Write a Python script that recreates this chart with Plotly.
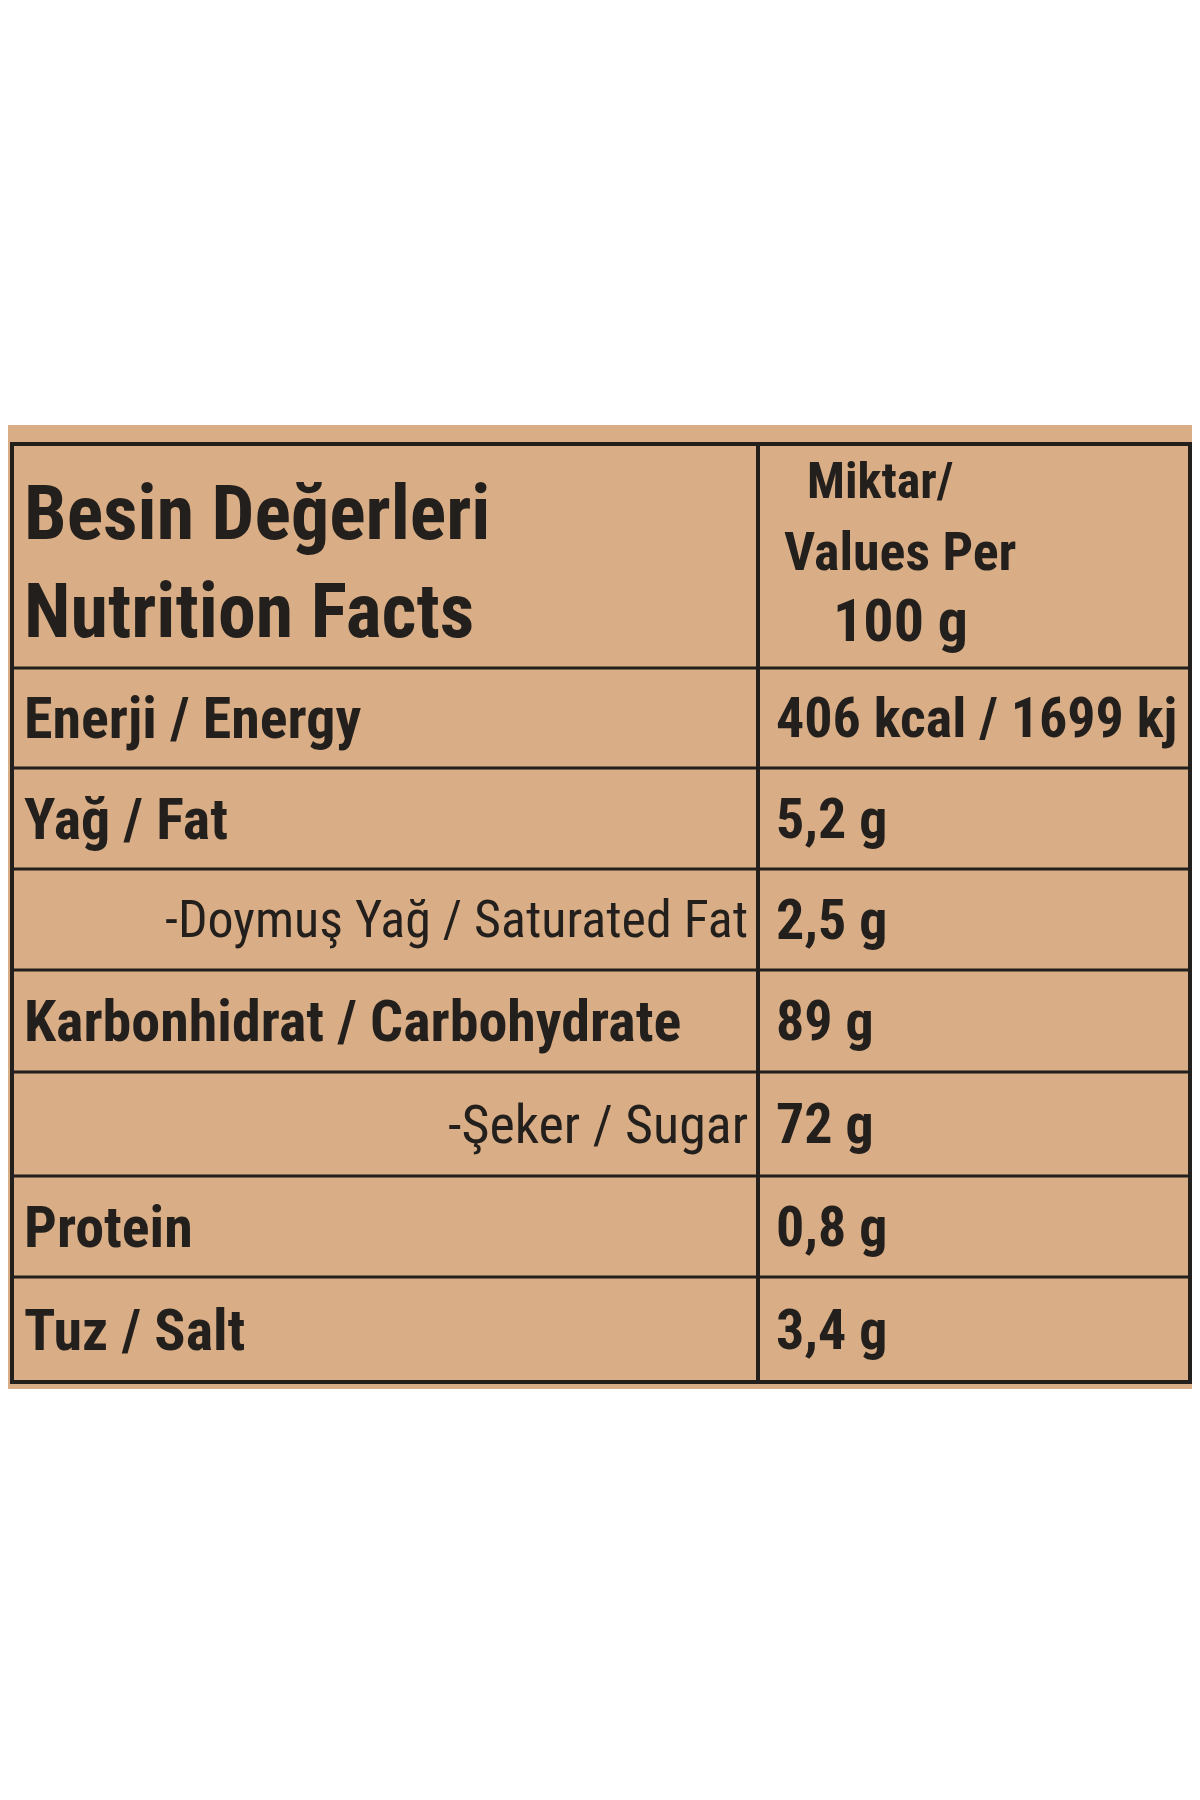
import plotly.graph_objects as go

header_left = ["Besin Değerleri", "Nutrition Facts"]
header_right = ["Miktar/", "Values Per", "100 g"]
nutrients = ["Enerji / Energy", "Yağ / Fat", "-Doymuş Yağ / Saturated Fat",
             "Karbonhidrat / Carbohydrate", "-Şeker / Sugar", "Protein", "Tuz / Salt"]
amounts = ["406 kcal / 1699 kj", "5,2 g", "2,5 g", "89 g", "72 g", "0,8 g", "3,4 g"]
is_sub = [False, False, True, False, True, False, False]

FONT = "Liberation Sans Narrow, Roboto Condensed, Roboto, Liberation Sans"
INK = "#231f1c"
row_edges = [660, 760, 861, 962, 1064, 1168, 1269, 1374]
L, R, M, TOP = 4, 1182, 750, 436

fig = go.Figure()
fig.add_trace(go.Scatter(x=[0], y=[0], mode="markers", marker=dict(opacity=0), hoverinfo="skip"))
shapes = [
    dict(type="rect", x0=0, x1=1200, y0=417, y1=1381, fillcolor="#d9ae86", line_width=0, layer="below"),
    dict(type="rect", x0=L, x1=R, y0=TOP, y1=row_edges[-1], line=dict(color=INK, width=4)),
    dict(type="line", x0=M, x1=M, y0=TOP, y1=row_edges[-1], line=dict(color=INK, width=4)),
]
for y in row_edges[:-1]:
    shapes.append(dict(type="line", x0=L, x1=R, y0=y, y1=y, line=dict(color=INK, width=3)))

ann = []
for i, t in enumerate(header_left):
    ann.append(dict(x=14, y=[505, 603][i], text="<b>" + t + "</b>", xanchor="left", yanchor="middle",
                    showarrow=False, font=dict(family=FONT, size=76, color=INK)))
for i, t in enumerate(header_right):
    ann.append(dict(x=[872, 892, 892][i], y=[473, 543, 612][i],
                    text="<b>" + t + "</b>", xanchor="center", yanchor="middle",
                    showarrow=False, font=dict(family=FONT, size=[50, 54, 60][i], color=INK)))
for i, (n, a) in enumerate(zip(nutrients, amounts)):
    yc = (row_edges[i] + row_edges[i + 1]) / 2
    if is_sub[i]:
        if n.startswith("-Ş"):
            ann.append(dict(x=742, y=yc, text=n, xanchor="right", yanchor="middle", showarrow=False,
                            font=dict(family=FONT, size=54, color=INK)))
        else:
            ann.append(dict(x=742, y=yc, text=n, xanchor="right", yanchor="middle", showarrow=False,
                            font=dict(family=FONT, size=52, color=INK)))
    else:
        ann.append(dict(x=14, y=yc, text="<b>" + n + "</b>", xanchor="left", yanchor="middle", showarrow=False,
                        font=dict(family=FONT, size=58, color=INK)))
    ann.append(dict(x=766, y=yc, text="<b>" + a + "</b>", xanchor="left", yanchor="middle", showarrow=False,
                    font=dict(family=FONT, size=56, color=INK)))

fig.update_layout(width=1200, height=1800, margin=dict(l=0, r=0, t=0, b=0),
                  paper_bgcolor="white", plot_bgcolor="white", showlegend=False,
                  xaxis=dict(range=[0, 1200], visible=False, fixedrange=True),
                  yaxis=dict(range=[1800, 0], visible=False, fixedrange=True),
                  shapes=shapes, annotations=ann)
fig.write_html("out.html")
